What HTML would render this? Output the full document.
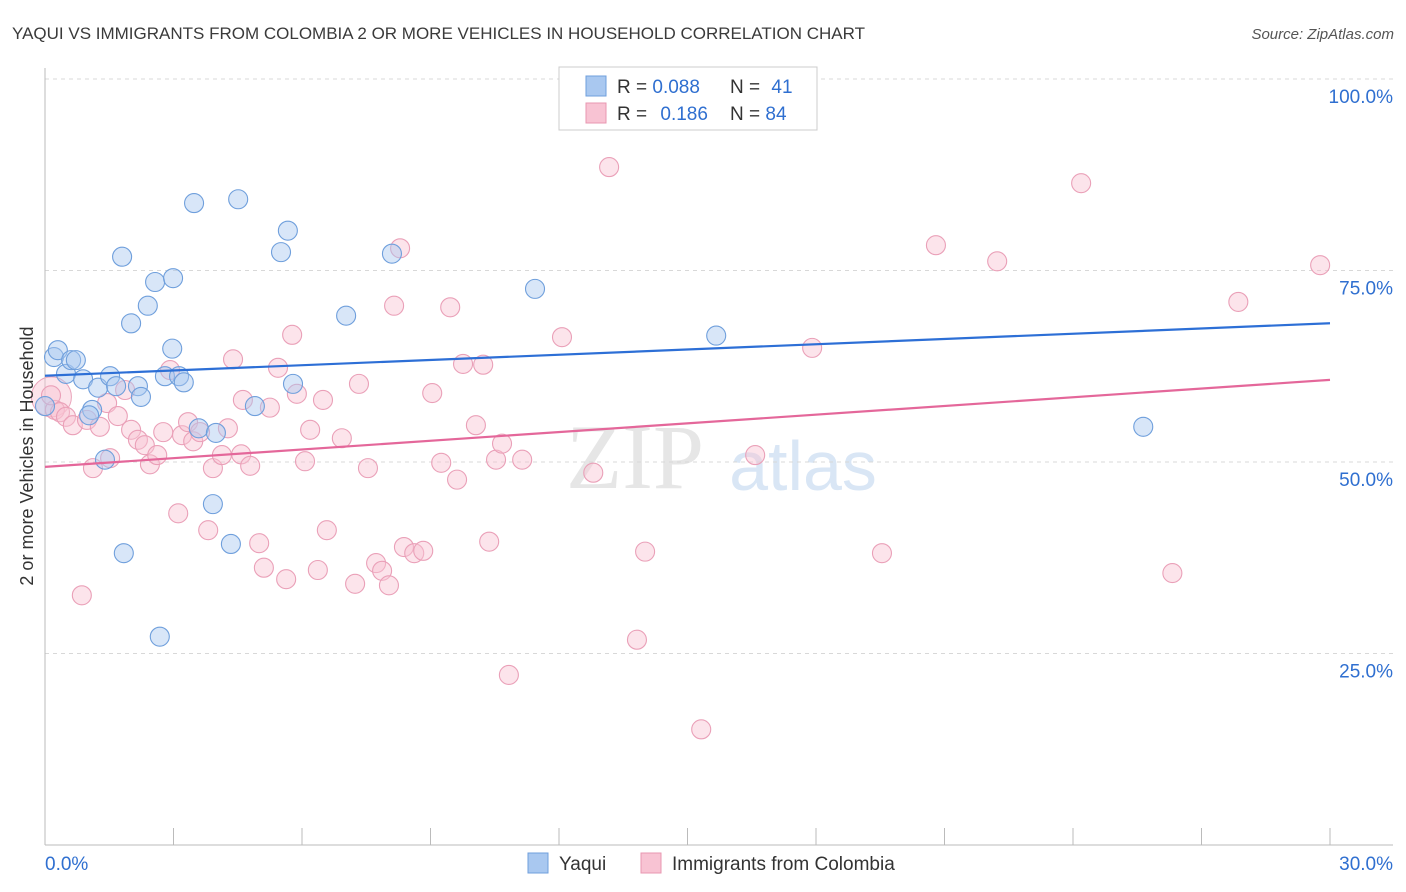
<!DOCTYPE html>
<html><head><meta charset="utf-8"><style>
body{margin:0;background:#fff;font-family:"Liberation Sans",sans-serif;}
svg{display:block}
</style></head><body>
<svg id="chart" width="1406" height="892">
<text x="12" y="39" font-size="17" fill="#3a3a3a">YAQUI VS IMMIGRANTS FROM COLOMBIA 2 OR MORE VEHICLES IN HOUSEHOLD CORRELATION CHART</text>
<text x="1394" y="39" font-size="15" fill="#555" text-anchor="end" font-style="italic">Source: ZipAtlas.com</text>
<g>
<text x="635" y="488" font-size="92" fill="#dcdcdc" text-anchor="middle" font-family="Liberation Serif,serif" opacity="0.7">ZIP</text>
<text x="803" y="490" font-size="70" fill="#c9dcf2" text-anchor="middle" opacity="0.7">atlas</text>
</g>
<g id="grid"></g><g id="axes"></g><g id="pts"></g><g id="lines"></g>
<text x="33" y="456" font-size="18" fill="#333" text-anchor="middle" transform="rotate(-90 33 456)">2 or more Vehicles in Household</text>
<g>
<rect x="559" y="67" width="258" height="63" fill="#fff" stroke="#ccc"/>
<rect x="586" y="76" width="20" height="20" fill="#a9c8f0" stroke="#6f9fdc"/>
<rect x="586" y="103" width="20" height="20" fill="#f8c3d3" stroke="#e897b0"/>
<text x="617" y="93" font-size="19" fill="#333">R = <tspan fill="#2f6fd0">0.088</tspan></text>
<text x="730" y="93" font-size="19" fill="#333">N = <tspan fill="#2f6fd0" dx="6">41</tspan></text>
<text x="617" y="120" font-size="19" fill="#333">R = <tspan fill="#2f6fd0" dx="8">0.186</tspan></text>
<text x="730" y="120" font-size="19" fill="#333">N = <tspan fill="#2f6fd0">84</tspan></text>
</g>
<g>
<rect x="528" y="853" width="20" height="20" fill="#a9c8f0" stroke="#6f9fdc"/>
<text x="559" y="870" font-size="19" fill="#333">Yaqui</text>
<rect x="641" y="853" width="20" height="20" fill="#f8c3d3" stroke="#e897b0"/>
<text x="672" y="870" font-size="19" fill="#333">Immigrants from Colombia</text>
</g>
</svg>
<script>
const blueX=[0.21,0.30,0.49,0.61,0.72,0.89,1.24,1.10,1.03,1.40,1.52,1.66,1.84,1.80,2.01,2.17,2.24,2.40,2.57,2.68,2.80,2.97,2.99,3.13,3.24,3.48,3.59,3.92,3.99,4.34,4.51,4.90,5.51,5.67,5.79,7.03,8.10,11.44,15.67,25.64,0];
const blueY=[63.7,64.6,61.5,63.3,63.3,60.8,59.7,56.8,56.1,50.3,61.2,59.9,38.1,76.8,68.1,59.9,58.5,70.4,73.5,27.2,61.2,64.8,74.0,61.2,60.4,83.8,54.4,44.5,53.8,39.3,84.3,57.3,77.4,80.2,60.2,69.1,77.2,72.6,66.5,54.6,57.3];
const pinkX=[0.23,0.35,0.49,0.65,0.86,0.98,1.12,1.28,1.45,1.52,1.70,1.87,2.01,2.17,2.33,2.45,2.62,2.76,2.92,3.11,3.20,3.34,3.46,3.62,3.81,3.92,4.13,4.27,4.39,4.62,4.58,4.79,5.00,5.11,5.25,5.44,5.63,5.77,5.88,6.07,6.19,6.37,6.49,6.58,6.93,7.24,7.33,7.54,7.73,7.87,8.03,8.15,8.29,8.38,8.62,8.83,9.04,9.25,9.46,9.62,9.76,10.06,10.23,10.37,10.53,10.67,10.83,11.14,12.07,12.80,13.17,13.82,14.01,15.32,16.58,17.91,19.54,20.80,22.23,24.19,26.32,27.86,29.77,0.14];
const pinkY=[56.8,56.5,55.9,54.8,32.6,55.5,49.2,54.6,57.7,50.5,56.0,59.4,54.2,52.9,52.2,49.7,50.9,53.9,62.0,43.3,53.5,55.2,52.7,53.9,41.1,49.2,50.9,54.4,63.4,58.1,51.0,49.5,39.4,36.2,57.1,62.3,34.7,66.6,58.9,50.1,54.2,35.9,58.1,41.1,53.1,34.1,60.2,49.2,36.8,35.8,33.9,70.4,77.9,38.9,38.1,38.4,59.0,49.9,70.2,47.7,62.8,54.8,62.7,39.6,50.3,52.4,22.2,50.3,66.3,48.6,88.5,26.8,38.3,15.1,50.9,64.9,38.1,78.3,76.2,86.4,35.5,70.9,75.7,58.7];
const yTicks=[100,75,50,25];
const xTicks=[0,3,6,9,12,15,18,21,24,27,30];
const NS='http://www.w3.org/2000/svg';
const X=v=>45+v/30*1285, Y=v=>845-v/100*766;
function mk(t,a,p){const e=document.createElementNS(NS,t);for(const k in a)e.setAttribute(k,a[k]);document.getElementById(p).appendChild(e);return e;}
yTicks.forEach(t=>{
 const l=mk('line',{x1:45,x2:1393,y1:Y(t),y2:Y(t),stroke:'#d8d8d8','stroke-dasharray':'4,4'},'grid');
 
 
 const tx=mk('text',{x:1393,y:Y(t)+24,'font-size':19,fill:'#2f6fd0','text-anchor':'end'},'grid');
 tx.textContent=t.toFixed(1)+'%';
 
 
});
const ya=mk('line',{x1:45,x2:45,y1:68,y2:845,stroke:'#bbb'},'axes');


const xa=mk('line',{x1:45,x2:1393,y1:845,y2:845,stroke:'#bbb'},'axes');


xTicks.forEach(t=>{
 const l=mk('line',{x1:X(t),x2:X(t),y1:828,y2:845,stroke:'#bbb'},'axes');
 
 
});
const xl0=mk('text',{x:45,y:870,'font-size':19,fill:'#2f6fd0'},'axes');xl0.textContent='0.0%';


const xl1=mk('text',{x:1393,y:870,'font-size':19,fill:'#2f6fd0','text-anchor':'end'},'axes');xl1.textContent='30.0%';


const big=mk('circle',{cx:X(0.15),cy:Y(58.5),r:20,fill:'#f8c3d3','fill-opacity':0.45,stroke:'#eaa5bb','stroke-width':1},'pts');


function pts(xs,ys,fill,stroke,name){
 xs.forEach((x,i)=>{
  const c=mk('circle',{cx:X(x),cy:Y(ys[i]),r:9.5,fill:fill,'fill-opacity':0.45,stroke:stroke,'stroke-width':1.1},'pts');
  
  
 });
}
pts(pinkX,pinkY,'#f8c3d3','#eaa0b8','point-colombia');
pts(blueX,blueY,'#a9c8f0','#6f9fdc','point-yaqui');
function fit(xs,ys){const n=xs.length;let mx=0,my=0;xs.forEach((x,i)=>{mx+=x;my+=ys[i]});mx/=n;my/=n;let sxy=0,sxx=0;xs.forEach((x,i)=>{sxy+=(x-mx)*(ys[i]-my);sxx+=(x-mx)**2});const b=sxy/sxx;return [my-b*mx,b];}
function line(xs,ys,col,name){const [a,b]=fit(xs,ys);
 const l=mk('line',{x1:X(0),y1:Y(a),x2:X(30),y2:Y(a+b*30),stroke:col,'stroke-width':2.2},'lines');
 
 
}
line(blueX,blueY,'#2d6fd6','trend-line-yaqui');
line(pinkX,pinkY,'#e4679a','trend-line-colombia');
</script>
</body></html>
